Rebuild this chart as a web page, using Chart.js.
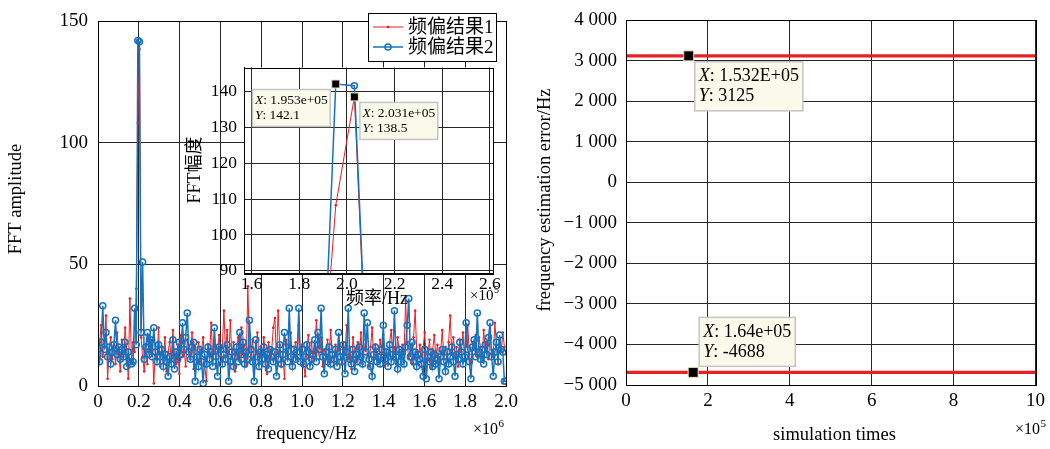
<!DOCTYPE html>
<html>
<head>
<meta charset="utf-8">
<script src="https://cdn.jsdelivr.net/npm/chart.js@4.4.1/dist/chart.umd.min.js"></script>
<style>
html, body { margin: 0; padding: 0; background: #fff; }
#wrap { position: relative; width: 1050px; height: 449px; overflow: hidden; }
canvas { position: absolute; }
</style>
</head>
<body>
<div id="wrap">
  <canvas id="fft-chart" style="left:0;top:0" width="530" height="449"></canvas>
  <canvas id="zoom-chart" style="left:180px;top:50px" width="330" height="270"></canvas>
  <canvas id="error-chart" style="left:530px;top:0" width="520" height="449"></canvas>
</div>
<script>
const fftChart = document.getElementById('fft-chart');
const zoomChart = document.getElementById('zoom-chart');
const errorChart = document.getElementById('error-chart');

// FFT bin width in Hz, one value per bin starting at 0 Hz
const BIN_HZ = 7812.5;

// 频偏结果1 (red)
const result1 = [
  8, 18, 25, 12, 16, 29, 3, 14, 20, 11, 17, 9, 22, 13, 6, 19,
  12, 24, 15, 3, 36, 10, 18, 14, 40, 108.3, 138.5, 20, 12, 6, 17, 9,
  21, 14, 19, 1, 15, 11, 24, 8, 16, 12, 20, 6, 14, 18, 10, 23,
  13, 9, 17, 5, 21, 12, 15, 8, 19, 14, 11, 22, 7, 16, 12, 18,
  10, 15, 20, 8, 2, 17, 13, 26, 11, 19, 9, 14, 21, 12, 16, 31,
  14, 23, 9, 27, 12, 18, 6, 15, 20, 10, 24, 13, 17, 8, 41, 16,
  11, 19, 7, 14, 22, 12, 16, 9, 20, 13, 5, 18, 11, 15, 24, 28,
  10, 31, 17, 8, 14, 3, 19, 12, 16, 22, 9, 14, 18, 11, 25, 13,
  17, 9, 4, 15, 21, 12, 18, 10, 14, 27, 16, 11, 20, 8, 15, 13,
  19, 10, 23, 14, 8, 17, 12, 21, 15, 9, 18, 13, 25, 11, 16, 7,
  20, 14, 10, 18, 12, 22, 9, 15, 19, 13, 8, 16, 24, 11, 17, 14,
  10, 19, 13, 21, 8, 15, 12, 18, 23, 11, 16, 9, 20, 14, 12, 17,
  13, 35, 18, 11, 15, 9, 20, 31, 14, 12, 17, 8, 16, 22, 10, 13,
  19, 7, 15, 21, 12, 17, 9, 14, 23, 11, 16, 10, 18, 29, 13, 20,
  12, 16, 8, 19, 14, 22, 11, 17, 25, 13, 9, 18, 15, 21, 12, 20,
  16, 10, 23, 14, 18, 11, 20, 15, 12, 26, 17, 9, 19, 14, 22, 16,
  13
];

// 频偏结果2 (blue)
const result2 = [
  13, 10, 18, 33, 15, 22, 12, 16, 9, 14, 17, 27, 13, 16, 11, 15,
  12, 18, 8, 14, 10, 9, 10, 32, 17, 142.1, 141.6, 22, 51, 11, 16, 22,
  13, 19, 12, 24, 14, 10, 17, 12, 15, 8, 13, 10, 4, 12, 9, 19,
  7, 14, 11, 18, 13, 26, 15, 20, 30, 14, 11, 16, 18, 2, 12, 8,
  15, 10, 1, 13, 9, 16, 11, 14, 8, 24, 12, 4, 16, 15, 9, 13,
  11, 17, 2, 10, 14, 8, 12, 16, 10, 22, 13, 18, 9, 14, 11, 27,
  15, 10, 2, 19, 12, 8, 14, 11, 16, 9, 13, 7, 15, 12, 10, 14,
  4, 11, 17, 9, 13, 22, 16, 10, 32, 12, 8, 15, 11, 14, 32, 10,
  15, 9, 12, 17, 14, 8, 11, 13, 19, 10, 22, 15, 32, 12, 5, 14,
  10, 16, 9, 13, 11, 15, 8, 22, 12, 10, 17, 5, 14, 32, 11, 9,
  15, 6, 13, 10, 16, 12, 9, 30, 14, 26, 11, 8, 4, 13, 16, 10,
  12, 9, 15, 25, 11, 14, 8, 17, 10, 13, 31, 12, 7, 15, 10, 14,
  9, 16, 25, 36, 12, 18, 10, 14, 8, 13, 11, 9, 4, 15, 3, 12,
  10, 14, 8, 13, 9, 11, 3, 12, 15, 10, 6, 14, 9, 12, 16, 10,
  4, 13, 11, 18, 14, 9, 12, 26, 15, 10, 3, 16, 19, 12, 30, 14,
  11, 15, 9, 17, 13, 20, 26, 12, 4, 14, 18, 10, 21, 15, 14, 2,
  2
];

const fftTicksX = [0, 0.2, 0.4, 0.6, 0.8, 1.0, 1.2, 1.4, 1.6, 1.8, 2.0]; // x10^6 Hz
const fftTicksY = [0, 50, 100, 150];
const zoomTicksX = [1.6, 1.8, 2.0, 2.2, 2.4, 2.6]; // x10^5 Hz
const zoomTicksY = [90, 100, 110, 120, 130, 140];

// frequency estimation error vs simulation times (x10^5)
const simTimes = [0, 10];
const errorHigh = [3125, 3125];
const errorLow = [-4688, -4688];
const errTicksX = [0, 2, 4, 6, 8, 10];
const errTicksY = [-5000, -4000, -3000, -2000, -1000, 0, 1000, 2000, 3000, 4000];

const serif = '"Liberation Serif", "Times New Roman", "Noto Sans CJK SC", serif';
const RED = 'rgb(232, 32, 36)';
const BLUE = 'rgb(22, 114, 190)';
const GRID = '#262626';

Chart.defaults.font.family = serif;
Chart.defaults.color = '#000';

const toPoints = (values, unit) => values.map((v, i) => ({ x: i * BIN_HZ / unit, y: v }));

function fftDatasets(unit) {
    return [
        {
            label: '频偏结果1',
            data: toPoints(result1, unit),
            borderColor: RED,
            borderWidth: 1,
            pointRadius: 1.3,
            pointBorderWidth: 0,
            pointBackgroundColor: RED,
            order: 2
        },
        {
            label: '频偏结果2',
            data: toPoints(result2, unit),
            borderColor: BLUE,
            borderWidth: 1.5,
            pointRadius: 3,
            pointBorderWidth: 1.5,
            pointBorderColor: BLUE,
            pointBackgroundColor: 'rgba(0,0,0,0)',
            order: 1
        }
    ]
}

function axis(min, max, ticks, fmt, fontSize, padding, fit) {
    return {
        type: 'linear',
        min: min,
        max: max,
        afterBuildTicks: s => { s.ticks = ticks.map(v => ({ value: v })) },
        afterFit: fit,
        grid: { color: GRID, lineWidth: 1, drawTicks: false },
        border: { color: '#000', width: 1 },
        ticks: { font: { size: fontSize }, padding: padding, callback: fmt, autoSkip: false, maxRotation: 0 }
    }
}

const thousands = v => (v < 0 ? '\u2212' : '') + String(Math.abs(v)).replace(/\B(?=(\d{3})+(?!\d))/g, ' ');

function timesTen(ctx, x, y, exp, size) {
    ctx.textAlign = 'left';
    ctx.textBaseline = 'middle';
    ctx.font = size + 'px ' + serif;
    ctx.fillText('\u00d710', x, y);
    const w = ctx.measureText('\u00d710').width;
    ctx.font = Math.round(size * 0.68) + 'px ' + serif;
    ctx.fillText(exp, x + w + 0.5, y - size * 0.38);
}

function drawTip(chart, tip, o) {
    const { ctx } = chart;
    const px = chart.scales.x.getPixelForValue(tip.x);
    const py = chart.scales.y.getPixelForValue(tip.y);
    const rows = [['X', tip.xText], ['Y', tip.yText]];
    ctx.font = 'italic ' + o.size + 'px ' + serif;
    const italW = rows.map(r => ctx.measureText(r[0]).width);
    ctx.font = o.size + 'px ' + serif;
    const w = Math.max(...rows.map((r, i) => italW[i] + ctx.measureText(': ' + r[1]).width)) + o.padX * 2;
    const h = o.line * 2 + o.padY * 2;
    const bx = tip.side.includes('e') ? px + o.gap : px - o.gap - w;
    const by = tip.side.includes('s') ? py + o.gap : py - o.gap - h;
    ctx.fillStyle = '#fafaea';
    ctx.fillRect(bx, by, w, h);
    ctx.strokeStyle = '#c4c4c4';
    ctx.lineWidth = 1.5;
    ctx.strokeRect(bx, by, w, h);
    ctx.fillStyle = '#000';
    ctx.textAlign = 'left';
    ctx.textBaseline = 'middle';
    rows.forEach((r, i) => {
        const ty = by + o.padY + o.line * (i + 0.5);
        ctx.font = 'italic ' + o.size + 'px ' + serif;
        ctx.fillText(r[0], bx + o.padX, ty);
        ctx.font = o.size + 'px ' + serif;
        ctx.fillText(': ' + r[1], bx + o.padX + italW[i], ty);
    });
    const m = o.marker;
    ctx.fillStyle = '#000';
    ctx.fillRect(px - m / 2, py - m / 2, m, m);
    ctx.strokeStyle = '#ece4b8';
    ctx.lineWidth = 1;
    ctx.strokeRect(px - m / 2, py - m / 2, m, m);
}

function drawTexts(ctx, texts, dx, dy) {
    ctx.fillStyle = '#000';
    texts.forEach(t => {
        if (t.exp) { timesTen(ctx, t.x - dx, t.y - dy, t.exp, t.size); return }
        ctx.save();
        ctx.translate(t.x - dx, t.y - dy);
        if (t.rotate) ctx.rotate(-Math.PI / 2);
        ctx.font = t.size + 'px ' + serif;
        ctx.textAlign = 'center';
        ctx.textBaseline = 'middle';
        ctx.fillText(t.text, 0, 0);
        ctx.restore();
    });
}

function decor(cfg) {
    return {
        id: 'decor',
        beforeDraw: chart => {
            if (!cfg.fill) return;
            const a = chart.chartArea;
            chart.ctx.fillStyle = '#fff';
            chart.ctx.fillRect(a.left, a.top, a.right - a.left, a.bottom - a.top);
        },
        afterDraw: chart => {
            const { ctx } = chart;
            const a = chart.chartArea;
            ctx.save();
            ctx.strokeStyle = '#000';
            ctx.lineWidth = 1;
            ctx.strokeRect(Math.round(a.left) + 0.5, Math.round(a.top) + 0.5, Math.round(a.right - a.left), Math.round(a.bottom - a.top));
            if (cfg.legend) {
                const b = cfg.legend;
                ctx.fillStyle = '#fff';
                ctx.fillRect(b.x, b.y, b.w, b.h);
                ctx.strokeRect(b.x + 0.5, b.y + 0.5, b.w, b.h);
                chart.data.datasets.forEach((ds, i) => {
                    const y = b.y + 14 + i * 20;
                    ctx.strokeStyle = ds.borderColor;
                    ctx.lineWidth = ds.borderWidth;
                    ctx.beginPath();
                    ctx.moveTo(b.x + 5, y);
                    ctx.lineTo(b.x + 35, y);
                    ctx.stroke();
                    ctx.beginPath();
                    ctx.arc(b.x + 20, y, ds.pointRadius, 0, Math.PI * 2);
                    if (ds.pointBorderWidth) { ctx.lineWidth = ds.pointBorderWidth; ctx.stroke() } else { ctx.fillStyle = ds.borderColor; ctx.fill() }
                    ctx.fillStyle = '#000';
                    ctx.font = '19px ' + serif;
                    ctx.textAlign = 'left';
                    ctx.textBaseline = 'middle';
                    ctx.fillText(ds.label, b.x + 40, y + 1);
                });
            }
            drawTexts(ctx, cfg.texts || [], cfg.dx || 0, cfg.dy || 0);
            (cfg.tips || []).forEach(t => drawTip(chart, t, cfg.tipStyle));
            ctx.restore();
        }
    }
}

const common = {
    responsive: false,
    animation: false,
    elements: { line: { tension: 0 } },
    plugins: { legend: { display: false }, tooltip: { enabled: false } }
};

new Chart(fftChart, {
    type: 'line',
    data: { datasets: fftDatasets(1e6) },
    options: {
        ...common,
        layout: { padding: { left: 0, top: 11, right: 24, bottom: 0 } },
        scales: {
            x: axis(0, 2, fftTicksX, v => v === 0 ? '0' : v.toFixed(1), 19, 5, s => { s.height = 63 }),
            y: axis(0, 150, fftTicksY, v => String(v), 19, 10, s => { s.width = 98 })
        }
    },
    plugins: [decor({
        legend: { x: 368, y: 13, w: 128, h: 48 },
        texts: [
            { text: 'FFT amplitude', x: 16.5, y: 199, rotate: true, size: 18.5 },
            { text: 'frequency/Hz', x: 306, y: 434, size: 18.5 },
            { exp: '6', x: 473, y: 430, size: 16 }
        ]
    })]
})

new Chart(zoomChart, {
    type: 'line',
    data: { datasets: fftDatasets(1e5) },
    options: {
        ...common,
        layout: { padding: { left: 0, top: 16, right: 17, bottom: 0 } },
        scales: {
            x: axis(1.568, 2.613, zoomTicksX, v => v.toFixed(1), 17.5, 1, s => { s.height = 47 }),
            y: axis(89.4, 146.7, zoomTicksY, v => String(v), 17.5, 7, s => { s.width = 64 })
        }
    },
    plugins: [decor({
        fill: true,
        dx: 180, dy: 50,
        texts: [
            { text: 'FFT幅度', x: 195.5, y: 170, rotate: true, size: 18 },
            { text: '频率/Hz', x: 377, y: 299, size: 18 },
            { exp: '5', x: 470, y: 296, size: 15 }
        ],
        tipStyle: { size: 13.5, line: 14.5, padX: 2.5, padY: 4, gap: 5.5, marker: 8 },
        tips: [
            { x: 25 * BIN_HZ / 1e5, y: result2[25], xText: '1.953e+05', yText: '142.1', side: 'sw' },
            { x: 26 * BIN_HZ / 1e5, y: result1[26], xText: '2.031e+05', yText: '138.5', side: 'se' }
        ]
    })]
})

new Chart(errorChart, {
    type: 'line',
    data: {
        datasets: [
            { data: simTimes.map((t, i) => ({ x: t, y: errorHigh[i] })), borderColor: RED, borderWidth: 3.2, pointRadius: 0 },
            { data: simTimes.map((t, i) => ({ x: t, y: errorLow[i] })), borderColor: RED, borderWidth: 3.2, pointRadius: 0 }
        ]
    },
    options: {
        ...common,
        layout: { padding: { left: 0, top: 11, right: 10, bottom: 0 } },
        scales: {
            x: axis(0, 10, errTicksX, v => String(v), 19, 5, s => { s.height = 64 }),
            y: axis(-5000, 4000, errTicksY, thousands, 19, 9, s => { s.width = 96 })
        }
    },
    plugins: [decor({
        dx: 530, dy: 0,
        texts: [
            { text: 'frequency estimation error/Hz', x: 545, y: 200, rotate: true, size: 18.5 },
            { text: 'simulation times', x: 834.5, y: 435, size: 18.5 },
            { exp: '5', x: 1015, y: 430, size: 16 }
        ],
        tipStyle: { size: 18, line: 20, padX: 4, padY: 4.5, gap: 6, marker: 10 },
        tips: [
            { x: 1.532, y: 3125, xText: '1.532E+05', yText: '3125', side: 'se' },
            { x: 1.64, y: -4688, xText: '1.64e+05', yText: '-4688', side: 'ne' }
        ]
    })]
})
</script>
</body>
</html>
